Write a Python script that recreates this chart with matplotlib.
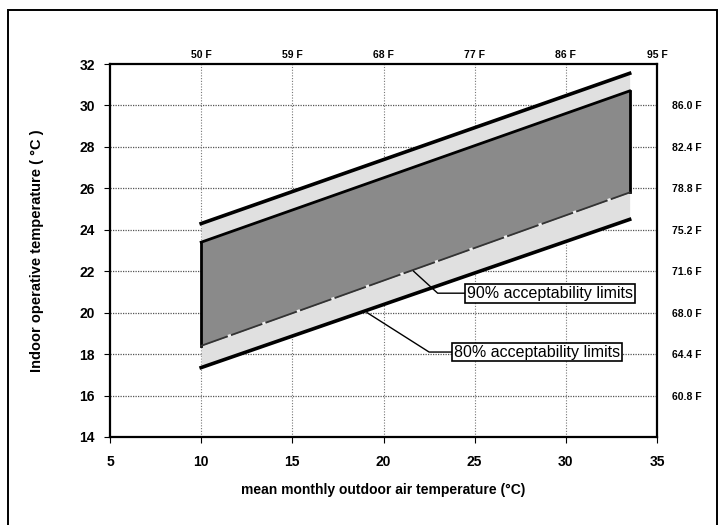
import matplotlib
matplotlib.use("Agg")
import matplotlib.pyplot as plt
from matplotlib.patches import Rectangle

plt.rcParams['font.family'] = ['Liberation Sans', 'DejaVu Sans']

# ---- data ----
mean_outdoor = [10, 33.5]
upper80 = [24.3, 31.55]
lower80 = [17.35, 24.5]
upper90 = [23.4, 30.7]
lower90 = [18.4, 25.8]

x_ticks = [5, 10, 15, 20, 25, 30, 35]
y_ticks = [14, 16, 18, 20, 22, 24, 26, 28, 30, 32]
top_ticks = [10, 15, 20, 25, 30, 35]
top_labels = ['50 F', '59 F', '68 F', '77 F', '86 F', '95 F']
right_ticks = [16, 18, 20, 22, 24, 26, 28, 30]
right_labels = ['60.8 F', '64.4 F', '68.0 F', '71.6 F', '75.2 F', '78.8 F', '82.4 F', '86.0 F']

label90 = '90% acceptability limits'
label80 = '80% acceptability limits'
# leader lines: start point, corner point, box anchor (data coords)
lead90 = ([21.65, 22.97, 24.6], [22.0, 20.94, 20.94])
lead80 = ([19.1, 22.5, 23.85], [20.0, 18.1, 18.1])

W, H = 724, 525
fig = plt.figure(figsize=(W / 100, H / 100), dpi=100)
fig.patch.set_facecolor('white')

# outer frame
fig.patches.append(Rectangle((8 / W, -0.02), (717 - 8) / W, (525 - 10) / H + 0.02,
                             transform=fig.transFigure, fill=False,
                             edgecolor='black', linewidth=1.4))

ax = fig.add_axes([110 / W, 1 - 437 / H, (657 - 110) / W, (437 - 64) / H])
ax.set_xlim(5, 35)
ax.set_ylim(14, 32)

# grid
for yv in right_ticks:
    ax.axhline(yv, color='#555555', linestyle=(0, (1, 1)), linewidth=0.9, zorder=0)
for xv in top_ticks[:-1]:
    ax.axvline(xv, color='#777777', linestyle=(0, (1, 1.5)), linewidth=0.8, zorder=0)

# 80% band (light)
ax.fill_between(mean_outdoor, lower80, upper80, color='#e0e0e0', linewidth=0, zorder=1)
# 90% band (dark)
ax.fill_between(mean_outdoor, lower90, upper90, color='#8a8a8a', linewidth=0, zorder=2)

# 90% outline
ax.plot(mean_outdoor, upper90, color='black', linewidth=2, zorder=3)
ax.plot([mean_outdoor[0]] * 2, [lower90[0], upper90[0]], color='black', linewidth=2, zorder=3)
ax.plot([mean_outdoor[1]] * 2, [lower90[1], upper90[1]], color='black', linewidth=2, zorder=3)
ax.plot(mean_outdoor, lower90, color='#333333', linewidth=1.3, zorder=3)
ax.plot(mean_outdoor, lower90, color='#f0f0f0', linewidth=2,
        linestyle=(3, (1.2, 12)), zorder=3)

# 80% lines
ax.plot(mean_outdoor, upper80, color='black', linewidth=2.6, zorder=4)
ax.plot(mean_outdoor, lower80, color='black', linewidth=2.6, zorder=4)

# annotations
for (lx, ly), txt in ((lead90, label90), (lead80, label80)):
    ax.plot(lx[:2] + [lx[2]], ly, color='black', linewidth=1, zorder=5)
    ax.text(lx[2], ly[2], txt, fontsize=11.5, ha='left', va='center', zorder=6,
            bbox=dict(boxstyle='square,pad=0.12', facecolor='white',
                      edgecolor='black', linewidth=1.2))

# bottom / left ticks
ax.set_xticks(x_ticks)
ax.set_yticks(y_ticks)
ax.set_xticklabels([str(v) for v in x_ticks], fontsize=10, fontweight='bold')
ax.set_yticklabels([str(v) for v in y_ticks], fontsize=10, fontweight='bold')
ax.tick_params(axis='both', direction='out', length=4, width=0.8, pad=7)
ax.tick_params(axis='x', pad=9)
for s in ax.spines.values():
    s.set_linewidth(1.6)

ax.set_xlabel('mean monthly outdoor air temperature (°C)', fontsize=10,
              fontweight='bold', labelpad=10)
ax.set_ylabel('Indoor operative temperature ( °C )', fontsize=10.5,
              fontweight='bold', labelpad=25)

# top F axis
axt = ax.twiny()
axt.set_xlim(ax.get_xlim())
axt.set_xticks(top_ticks)
axt.set_xticklabels(top_labels, fontsize=7.5, fontweight='bold')
axt.tick_params(axis='x', length=0, pad=3)

# right F axis
axr = ax.twinx()
axr.set_ylim(ax.get_ylim())
axr.set_yticks(right_ticks)
axr.set_yticklabels(right_labels, fontsize=7.5, fontweight='bold')
axr.tick_params(axis='y', length=0, pad=11)
for a in (axt, axr):
    for s in a.spines.values():
        s.set_visible(False)

fig.savefig('out.png', dpi=100)
